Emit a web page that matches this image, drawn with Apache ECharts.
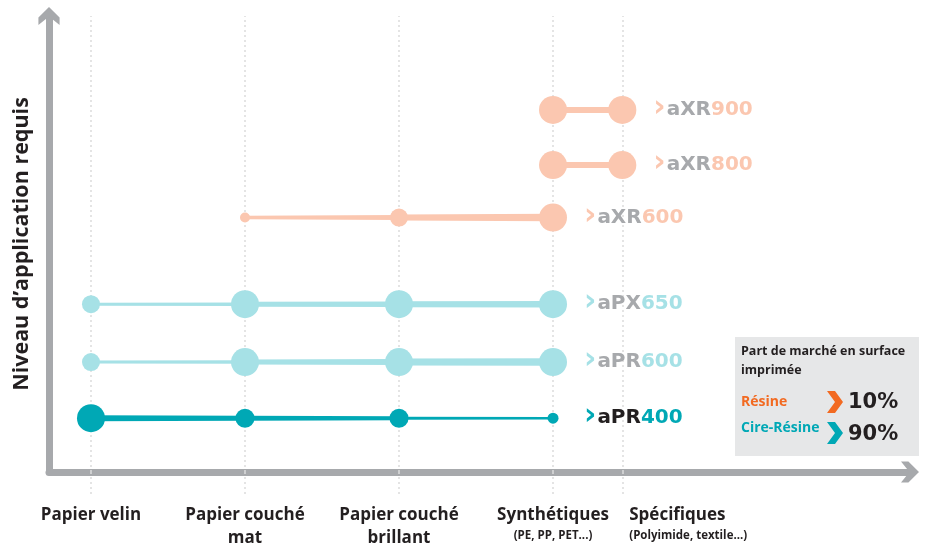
<!DOCTYPE html>
<html>
<head>
<meta charset="utf-8">
<script src="https://cdn.jsdelivr.net/npm/echarts@6/dist/echarts.min.js"></script>
<style>html,body{margin:0;padding:0;background:#fff;}#c{width:928px;height:544px;}</style>
</head>
<body>
<div id="c"></div>
<script>
// ---------- DATA ----------
const categories = ['Papier velin', 'Papier couché\nmat', 'Papier couché\nbrillant', 'Synthétiques', 'Spécifiques'];
const subLabels = ['', '', '', '(PE, PP, PET...)', '(Polyimide, textile...)'];
const catX = [0, 1, 2, 3, 3.45];
const labelX = [0, 1, 2, 3, 3.93];

const productPrefix = ['aXR', 'aXR', 'aXR', 'aPX', 'aPR', 'aPR'];
const productNumber = ['900', '800', '600', '650', '600', '400'];
const levels = [7.94, 6.73, 5.58, 3.68, 2.41, 1.18];

// dot diameters per category (null = not applicable)
const sizeAxr900 = [null, null, null, 28, 28];
const sizeAxr800 = [null, null, null, 28, 28];
const sizeAxr600 = [null, 10, 18, 28, null];
const sizeApx650 = [18, 28, 28, 28, null];
const sizeApr600 = [18, 28, 28, 28, null];
const sizeApr400 = [28, 19, 19, 11, null];

// connector thickness per segment [start, end]
const segAxr900 = [null, null, null, [6, 6]];
const segAxr800 = [null, null, null, [6, 6]];
const segAxr600 = [null, [3.5, 5], [6, 7.5], null];
const segApx650 = [[3, 3.5], [5, 5.5], [6, 6.5], null];
const segApr600 = [[3, 3.5], [5, 6], [7, 7.5], null];
const segApr400 = [[6, 5], [5, 4], [3, 2.5], null];

const legendTitle = 'Part de marché en surface\nimprimée';
const shareNames = ['Résine', 'Cire-Résine'];
const shareValues = ['10%', '90%'];

// ---------- STYLE ----------
const SALMON = '#fbc7b0';
const LTEAL = '#a6e1e6';
const DTEAL = '#00a8b5';
const GRAY = '#a7a9ac';
const DARK = '#231f20';
const ORANGE = '#f26a21';

const sizes = [sizeAxr900, sizeAxr800, sizeAxr600, sizeApx650, sizeApr600, sizeApr400];
const segs = [segAxr900, segAxr800, segAxr600, segApx650, segApr600, segApr400];
const colors = [SALMON, SALMON, SALMON, LTEAL, LTEAL, DTEAL];
const prefixColors = [GRAY, GRAY, GRAY, GRAY, GRAY, DARK];

const series = [];

// gridlines via markLine on a helper series
series.push({
  type: 'scatter', data: [], silent: true,
  markLine: {
    silent: true, symbol: 'none', animation: false,
    label: {show: false},
    lineStyle: {type: [2, 3], color: '#dcdcdc', width: 1.5},
    data: catX.map(v => ({xAxis: v}))
  }
});

sizes.forEach((sz, pi) => {
  const color = colors[pi];
  const segData = [];
  segs[pi].forEach((s, i) => {
    if (s) segData.push([catX[i], catX[i + 1], levels[pi], s[0], s[1]]);
  });
  series.push({
    type: 'custom', coordinateSystem: 'cartesian2d', silent: true, z: 3,
    encode: {x: [0, 1], y: 2},
    data: segData,
    renderItem: function (params, api) {
      const p1 = api.coord([api.value(0), api.value(2)]);
      const p2 = api.coord([api.value(1), api.value(2)]);
      const w1 = api.value(3), w2 = api.value(4);
      return {
        type: 'polygon',
        shape: {points: [[p1[0], p1[1] - w1 / 2], [p2[0], p2[1] - w2 / 2], [p2[0], p2[1] + w2 / 2], [p1[0], p1[1] + w1 / 2]]},
        style: {fill: color}
      };
    }
  });
  const pts = [];
  sz.forEach((s, i) => { if (s != null) pts.push({value: [catX[i], levels[pi], s]}); });
  const last = pts[pts.length - 1];
  last.label = {
    show: true, position: 'right', distance: 17 + (28 - last.value[2]) / 2,
    formatter: '{c|›}{p|' + productPrefix[pi] + '}{n|' + productNumber[pi] + '}',
    rich: {
      c: {color: color, fontSize: 30, fontWeight: 'bold', fontFamily: 'DejaVu Sans', padding: [0, 1, 3, 0]},
      p: {color: prefixColors[pi], fontSize: 20, fontWeight: 'bold', fontFamily: 'DejaVu Sans'},
      n: {color: color, fontSize: 20, fontWeight: 'bold', fontFamily: 'DejaVu Sans'}
    }
  };
  series.push({
    type: 'scatter', z: 5, silent: true,
    symbol: 'circle',
    symbolSize: v => v[2],
    itemStyle: {color: color, opacity: 1},
    data: pts
  });
});

const arrowPath = 'path://M10 0 L20 10 L20 17 L10 9 L0 17 L0 10 Z';

const option = {
  animation: false,
  grid: {left: 49, right: 18, top: 16, bottom: 72, outerBoundsMode: 'none', containLabel: false},
  xAxis: {
    type: 'value', min: -0.2727, max: 5.318,
    axisLine: {show: true, onZero: false, symbol: ['none', arrowPath], symbolSize: [22, 18],
      lineStyle: {color: GRAY, width: 7}},
    splitLine: {show: false},
    axisTick: {show: true, customValues: catX, length: 24, inside: false,
      lineStyle: {type: [2, 3], color: '#dcdcdc', width: 1.5}},
    axisLabel: {
      show: true, customValues: labelX, margin: 32, verticalAlign: 'top',
      formatter: function (v) {
        let i = labelX.findIndex(x => Math.abs(x - v) < 1e-6);
        if (i < 0) return '';
        const lines = categories[i].split('\n').map(l => '{b|' + l + '}');
        let txt = lines.join('\n');
        if (subLabels[i]) txt += '\n{s|' + subLabels[i] + '}';
        if (i === 4) txt = '{bl|' + categories[i] + '}\n{sl|' + subLabels[i] + '}';
        return txt;
      },
      rich: {
        b: {fontFamily: 'Open Sans', fontWeight: 'bold', fontSize: 17, color: DARK, lineHeight: 23},
        s: {fontFamily: 'Open Sans', fontWeight: 'bold', fontSize: 11.5, color: DARK, lineHeight: 18},
        bl: {fontFamily: 'Open Sans', fontWeight: 'bold', fontSize: 17, color: DARK, lineHeight: 23, width: 134, align: 'left'},
        sl: {fontFamily: 'Open Sans', fontWeight: 'bold', fontSize: 11.5, color: DARK, lineHeight: 18, width: 134, align: 'left'}
      }
    }
  },
  yAxis: {
    type: 'value', min: 0, max: 10,
    name: 'Niveau d’application requis', nameLocation: 'middle', nameRotate: 90, nameGap: 16,
    nameTextStyle: {fontFamily: 'Open Sans', fontWeight: 'bold', fontSize: 21.5, color: DARK},
    axisLine: {show: true, onZero: false, symbol: ['none', arrowPath], symbolSize: [22, 18],
      lineStyle: {color: GRAY, width: 7}},
    splitLine: {show: false}, axisTick: {show: false}, axisLabel: {show: false}
  },
  graphic: [
    {type: 'rect', left: 735, top: 337, shape: {width: 184, height: 119}, style: {fill: '#e6e7e8'}},
    {type: 'text', left: 741, top: 342, style: {text: legendTitle, fontFamily: 'Open Sans', fontWeight: 'bold', fontSize: 12.5, lineHeight: 19, fill: DARK}},
    {type: 'text', left: 741, top: 395, style: {text: shareNames[0], fontFamily: 'Open Sans', fontWeight: 'bold', fontSize: 14, fill: ORANGE}},
    {type: 'text', left: 741, top: 421, style: {text: shareNames[1], fontFamily: 'Open Sans', fontWeight: 'bold', fontSize: 14, fill: DTEAL}},
    {type: 'polygon', shape: {points: [[827, 391], [835, 391], [843, 402], [835, 413], [827, 413], [835, 402]]}, style: {fill: ORANGE}},
    {type: 'polygon', shape: {points: [[827, 422], [835, 422], [843, 433], [835, 444], [827, 444], [835, 433]]}, style: {fill: DTEAL}},
    {type: 'text', left: 848, top: 392, style: {text: shareValues[0], fontFamily: 'DejaVu Sans', fontWeight: 'bold', fontSize: 21, fill: DARK}},
    {type: 'text', left: 848, top: 424, style: {text: shareValues[1], fontFamily: 'DejaVu Sans', fontWeight: 'bold', fontSize: 21, fill: DARK}}
  ],
  series: series
};

const chart = echarts.init(document.getElementById('c'));
chart.setOption(option);
</script>
</body>
</html>
